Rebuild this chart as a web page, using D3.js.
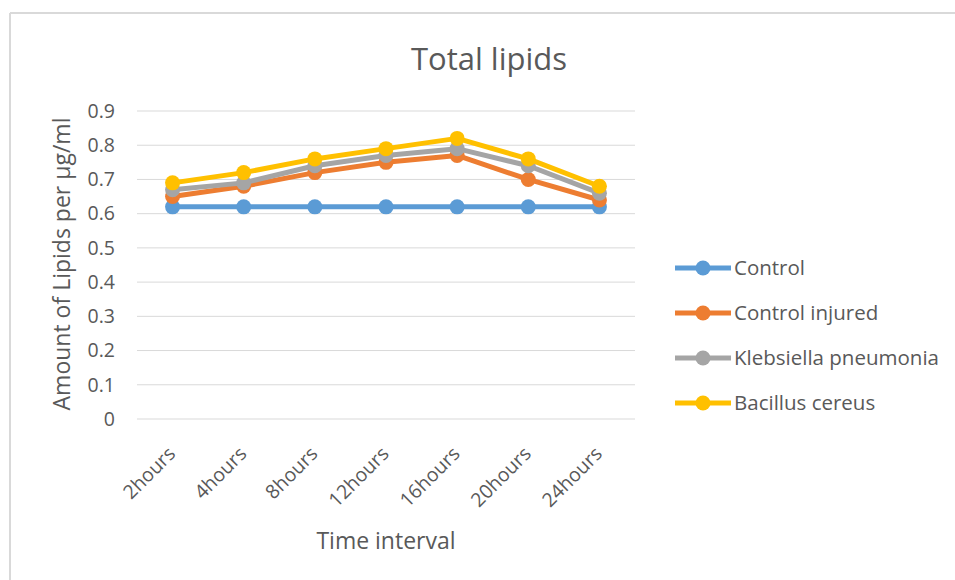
<!DOCTYPE html>
<html><head><meta charset="utf-8">
<script src="https://cdn.jsdelivr.net/npm/d3@7"></script>
<style>body{margin:0;background:#fff}svg{display:block}text{font-family:"Open Sans",sans-serif;fill:#595959}</style>
</head><body><svg id="c" width="955" height="580"></svg>
<script>
const categories = ["2hours","4hours","8hours","12hours","16hours","20hours","24hours"];
const seriesNames = ["Control","Control injured","Klebsiella pneumonia","Bacillus cereus"];
const control = [0.62,0.62,0.62,0.62,0.62,0.62,0.62];
const controlInjured = [0.65,0.68,0.72,0.75,0.77,0.70,0.64];
const klebsiella = [0.67,0.69,0.74,0.77,0.79,0.74,0.66];
const bacillus = [0.69,0.72,0.76,0.79,0.82,0.76,0.68];
const yTicks = [0,0.1,0.2,0.3,0.4,0.5,0.6,0.7,0.8,0.9];
const colors = ["#5B9BD5","#ED7D31","#A5A5A5","#FFC000"];
const allSeries = [control, controlInjured, klebsiella, bacillus];

const svg = d3.select("#c");
svg.append("line").attr("x1",10).attr("x2",955).attr("y1",13).attr("y2",13).attr("stroke","#d9d9d9").attr("stroke-width",2);
svg.append("line").attr("x1",10).attr("x2",10).attr("y1",13).attr("y2",580).attr("stroke","#d9d9d9").attr("stroke-width",2);

const x = d3.scaleBand().domain(categories).range([137,635]);
const y = d3.scaleLinear().domain([0,0.9]).range([419,111]);

svg.append("g").selectAll("line").data(yTicks).join("line")
  .attr("x1",137).attr("x2",635).attr("y1",d=>y(d)).attr("y2",d=>y(d))
  .attr("stroke","#d9d9d9").attr("stroke-width",1);

svg.append("g").selectAll("text").data(yTicks).join("text")
  .attr("x",115).attr("y",d=>y(d)).attr("dy","0.35em").attr("text-anchor","end")
  .attr("font-size",19.5).text(d=>d===0?"0":d3.format(".1f")(d));

svg.append("g").selectAll("text").data(categories).join("text")
  .attr("transform",d=>`translate(${x(d)+x.bandwidth()/2+4},${455}) rotate(-45)`)
  .attr("text-anchor","end").attr("font-size",19.5).text(d=>d);

svg.append("text").attr("x",489).attr("y",70).attr("text-anchor","middle").attr("font-size",31).text("Total lipids");
svg.append("text").attr("x",386).attr("y",549).attr("text-anchor","middle").attr("font-size",23).text("Time interval");
svg.append("text").attr("transform","translate(70,264) rotate(-90)").attr("text-anchor","middle").attr("font-size",23).text("Amount of Lipids per µg/ml");

const line = d3.line().x((d,i)=>x(categories[i])+x.bandwidth()/2).y(d=>y(d));
allSeries.forEach((s,k)=>{
  const g = svg.append("g");
  g.append("path").datum(s).attr("d",line).attr("fill","none").attr("stroke",colors[k]).attr("stroke-width",5).attr("stroke-linejoin","round");
  g.selectAll("circle").data(s).join("circle")
    .attr("cx",(d,i)=>x(categories[i])+x.bandwidth()/2).attr("cy",d=>y(d)).attr("r",7.5).attr("fill",colors[k]);
});

const lg = svg.append("g");
seriesNames.forEach((n,k)=>{
  const yy = 268 + k*45;
  lg.append("line").attr("x1",675).attr("x2",731).attr("y1",yy).attr("y2",yy).attr("stroke",colors[k]).attr("stroke-width",5);
  lg.append("circle").attr("cx",703).attr("cy",yy).attr("r",7.5).attr("fill",colors[k]);
  lg.append("text").attr("x",734).attr("y",yy).attr("dy","0.35em").attr("font-size",20.5).text(n);
});
</script></body></html>
